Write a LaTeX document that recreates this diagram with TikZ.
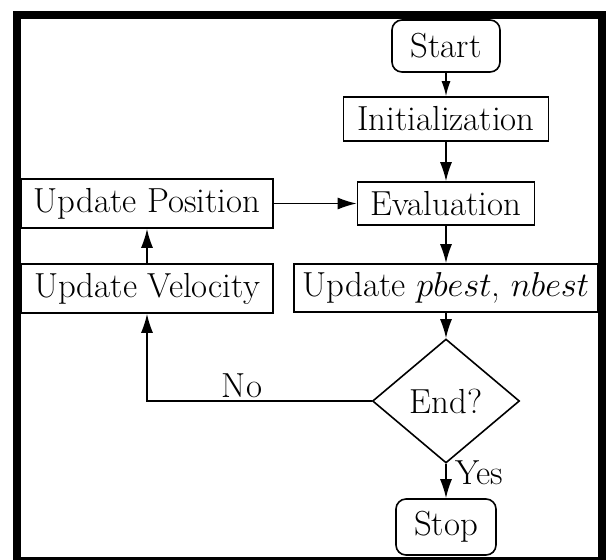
\documentclass[tikz,border=0pt]{standalone}
\usetikzlibrary{shapes.geometric,arrows.meta}
\begin{document}
\begin{tikzpicture}[x=0.5pt,y=-0.5pt,
  every node/.style={font=\fontsize{17.4}{20}\selectfont},
  box/.style={draw, rectangle, line width=0.8pt, inner sep=0pt},
  term/.style={box, rounded corners=5pt},
  decision/.style={draw, diamond, line width=0.8pt, inner sep=0pt},
  lbl/.style={inner sep=0pt},
  arr/.style={draw, line width=0.75pt, -{Latex[length=9.5pt,width=6pt]}}]
  % canvas and outer frame
  \useasboundingbox (0,0) rectangle (606,559);
  \fill[white] (0,0) rectangle (606,559);
  \begin{scope}
    \clip (0,0) rectangle (606,559);
    \draw[line width=4pt] (16.7,15) rectangle (602,561);
  \end{scope}

  % flowchart nodes
  \node[term, minimum width=54pt, minimum height=26pt] (start) at (446,46) {Start};
  \node[box, minimum width=102.5pt, minimum height=22pt] (init) at (446,119) {Initialization};
  \node[box, minimum width=88.5pt, minimum height=21.5pt] (eval) at (446,203.5) {Evaluation};
  \node[box, minimum width=126pt, minimum height=24.5pt] (pos) at (147,203.5) {Update Position};
  \node[box, minimum width=126pt, minimum height=24.5pt] (vel) at (147,288.5) {Update Velocity};
  \node[box, minimum width=152pt, minimum height=24pt] (best) at (446,288) {Update $pbest$, $nbest$};
  \node[decision, minimum width=73.5pt, minimum height=62pt] (end) at (446,401) {End?};
  \node[term, minimum width=50pt, minimum height=28pt] (stop) at (446,527) {Stop};

  % edge labels
  \node[lbl] (no) at (242,386) {No};
  \node[lbl, anchor=west] (yes) at (455,473) {Yes};

  % connectors
  \draw[arr, -{Latex[length=7.5pt,width=4.5pt]}] (start) -- (init);
  \draw[arr] (init) -- (eval);
  \draw[arr] (eval) -- (best);
  \draw[arr] (best) -- (end);
  \draw[arr] (end) -- (stop);
  \draw[arr] (end.west) -| (vel.south);
  \draw[arr] (vel) -- (pos);
  \draw[arr] (pos) -- (eval);
\end{tikzpicture}
\end{document}
